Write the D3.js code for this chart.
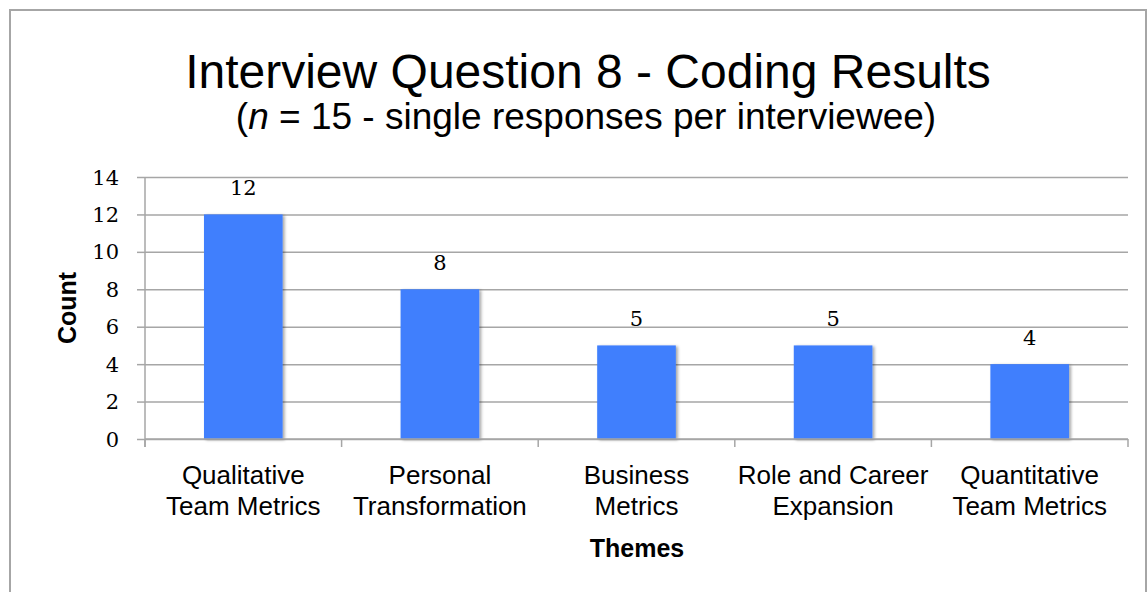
<!DOCTYPE html>
<html>
<head>
<meta charset="utf-8">
<script src="https://cdn.jsdelivr.net/npm/d3@7"></script>
<style>
  body { margin: 0; background: #fff; }
  .grid line { stroke: #a6a6a6; stroke-width: 1.5; }
  .grid path { display: none; }
</style>
</head>
<body>
<div id="chart"></div>
<script>
// data
const themes = [
  ["Qualitative", "Team Metrics"],
  ["Personal", "Transformation"],
  ["Business", "Metrics"],
  ["Role and Career", "Expansion"],
  ["Quantitative", "Team Metrics"]
];
const counts = [12, 8, 5, 5, 4];
const yTicks = [0, 2, 4, 6, 8, 10, 12, 14];

const W = 1147, H = 592;
const svg = d3.select("#chart").append("svg")
  .attr("width", W).attr("height", H);

// frame
svg.append("rect")
  .attr("x", 10).attr("y", 10)
  .attr("width", 1136).attr("height", 620)
  .attr("fill", "#fff")
  .attr("stroke", "#a6a6a6").attr("stroke-width", 2);

// shadow for bars
const defs = svg.append("defs");
const f = defs.append("filter").attr("id", "shadow")
  .attr("x", "-20%").attr("y", "-20%").attr("width", "140%").attr("height", "140%");
f.append("feDropShadow")
  .attr("dx", 2).attr("dy", 1).attr("stdDeviation", 1.5)
  .attr("flood-color", "#000").attr("flood-opacity", 0.35);

// titles
svg.append("text")
  .attr("x", 588).attr("y", 88)
  .attr("text-anchor", "middle")
  .style("font-family", "Liberation Sans, Arial, sans-serif")
  .style("font-size", "48px")
  .text("Interview Question 8 - Coding Results");

const sub = svg.append("text")
  .attr("x", 586).attr("y", 129)
  .attr("text-anchor", "middle")
  .style("font-family", "Liberation Sans, Arial, sans-serif")
  .style("font-size", "37px");
sub.append("tspan").text("(");
sub.append("tspan").style("font-style", "italic").text("n");
sub.append("tspan").text(" = 15 - single responses per interviewee)");

// scales
const plotL = 145, plotR = 1128, plotT = 177, plotB = 439;
const x = d3.scaleBand()
  .domain(d3.range(themes.length))
  .range([plotL, plotR])
  .padding(0);
const y = d3.scaleLinear().domain([0, 14]).range([plotB, plotT]);

// gridlines
svg.append("g")
  .attr("class", "grid")
  .attr("transform", `translate(${plotL},0)`)
  .call(d3.axisLeft(y).tickValues(yTicks).tickSize(-(plotR - plotL)).tickSizeOuter(0).tickFormat(""));
// small outward tick stubs
svg.append("g")
  .attr("class", "grid")
  .attr("transform", `translate(${plotL},0)`)
  .call(d3.axisLeft(y).tickValues(yTicks).tickSize(8).tickSizeOuter(0).tickFormat(""));

// y axis line
svg.append("line")
  .attr("x1", plotL).attr("x2", plotL)
  .attr("y1", plotT).attr("y2", plotB + 8)
  .attr("stroke", "#a6a6a6").attr("stroke-width", 1.5);

// y tick labels
svg.append("g").selectAll("text")
  .data(yTicks)
  .join("text")
  .attr("x", 119)
  .attr("y", d => y(d))
  .attr("dy", "0.36em")
  .attr("text-anchor", "end")
  .style("font-family", "DejaVu Serif, serif")
  .style("font-size", "21px")
  .text(d => d);

// x axis boundary ticks
const bounds = d3.range(themes.length + 1).map(i => plotL + i * x.step());
svg.append("g").selectAll("line")
  .data(bounds)
  .join("line")
  .attr("x1", d => d).attr("x2", d => d)
  .attr("y1", plotB).attr("y2", plotB + 8)
  .attr("stroke", "#a6a6a6").attr("stroke-width", 1.5);

// bars
const bw = x.bandwidth() * 0.4;
svg.append("g").selectAll("rect")
  .data(counts)
  .join("rect")
  .attr("x", (d, i) => x(i) + x.bandwidth() / 2 - bw / 2)
  .attr("y", d => y(d))
  .attr("width", bw)
  .attr("height", d => y(0) - y(d))
  .attr("fill", "#3f7ffd")
  .attr("filter", "url(#shadow)");

// x axis line
svg.append("line")
  .attr("x1", plotL).attr("x2", plotR)
  .attr("y1", plotB).attr("y2", plotB)
  .attr("stroke", "#a6a6a6").attr("stroke-width", 1.5);

// value labels
svg.append("g").selectAll("text")
  .data(counts)
  .join("text")
  .attr("x", (d, i) => x(i) + x.bandwidth() / 2)
  .attr("y", d => y(d) - 19)
  .attr("text-anchor", "middle")
  .style("font-family", "DejaVu Serif, serif")
  .style("font-size", "21px")
  .text(d => d);

// category labels
const cat = svg.append("g").selectAll("text")
  .data(themes)
  .join("text")
  .attr("text-anchor", "middle")
  .style("font-family", "Liberation Sans, Arial, sans-serif")
  .style("font-size", "26px");
cat.each(function (d, i) {
  const t = d3.select(this);
  d.forEach((line, j) => {
    t.append("tspan")
      .attr("x", x(i) + x.bandwidth() / 2)
      .attr("y", 484 + j * 31)
      .text(line);
  });
});

// axis titles
svg.append("text")
  .attr("x", 637).attr("y", 557)
  .attr("text-anchor", "middle")
  .style("font-family", "Liberation Sans, Arial, sans-serif")
  .style("font-size", "25px")
  .style("font-weight", "bold")
  .text("Themes");

svg.append("text")
  .attr("transform", "translate(76,308) rotate(-90)")
  .attr("text-anchor", "middle")
  .style("font-family", "Liberation Sans, Arial, sans-serif")
  .style("font-size", "25px")
  .style("font-weight", "bold")
  .text("Count");
</script>
</body>
</html>
